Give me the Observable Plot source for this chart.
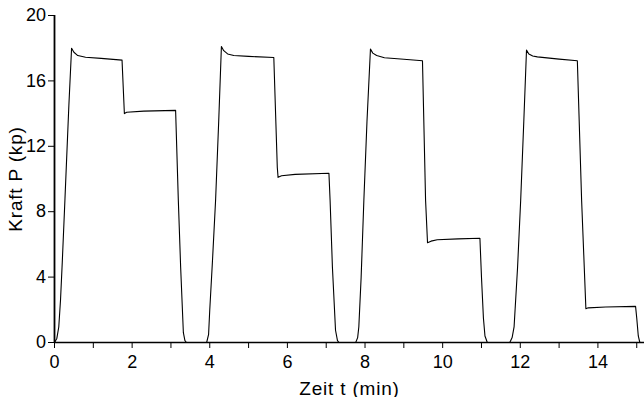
<!DOCTYPE html>
<html>
<head>
<meta charset="utf-8">
<script src="https://cdn.jsdelivr.net/npm/d3@7"></script>
<script src="https://cdn.jsdelivr.net/npm/@observablehq/plot@0.6"></script>
<style>
  html, body { margin: 0; padding: 0; background: #fff; }
  #chart svg { display: block; }
  #chart svg g[aria-label="x-axis label"] text,
  #chart svg g[aria-label="y-axis label"] text { font-size: 19px; letter-spacing: 0.8px; }
</style>
</head>
<body>
<div id="chart"></div>
<script>
// Time (min) and force (kp)
const tValues = [
  0, 0.06, 0.11, 0.155, 0.2, 0.27, 0.37, 0.44, 0.5, 0.6, 0.8, 1.2, 1.74, 1.80, 1.86, 2.3, 3.12, 3.19, 3.25, 3.32, 3.36, 3.40,
  3.92, 3.97, 4.0, 4.07, 4.15, 4.23, 4.30, 4.36, 4.46, 4.62, 5.0, 5.65, 5.74, 5.76, 5.85, 6.2, 7.07, 7.10, 7.16, 7.24, 7.29, 7.33,
  7.76, 7.81, 7.84, 7.90, 7.97, 8.05, 8.14, 8.2, 8.3, 8.5, 9.0, 9.48, 9.56, 9.61, 9.7, 9.86, 10.4, 10.96, 11.0, 11.05, 11.09, 11.15,
  11.73, 11.79, 11.84, 11.93, 12.01, 12.09, 12.16, 12.22, 12.32, 12.44, 13.0, 13.47, 13.58, 13.69, 13.75, 14.2, 14.97, 15.0, 15.04, 15.08
];
const pValues = [
  0, 0.25, 0.95, 2.6, 4.9, 8.8, 14.5, 18.0, 17.75, 17.55, 17.45, 17.38, 17.27, 14.0, 14.08, 14.15, 14.2, 8.7, 4.6, 0.6, 0.12, 0,
  0, 0.5, 2.0, 5.0, 8.7, 13.5, 18.1, 17.85, 17.65, 17.55, 17.5, 17.43, 10.7, 10.1, 10.2, 10.28, 10.35, 8.7, 4.6, 0.75, 0.12, 0,
  0, 0.3, 0.95, 4.0, 8.7, 13.5, 17.95, 17.7, 17.55, 17.42, 17.32, 17.23, 8.7, 6.1, 6.2, 6.28, 6.34, 6.38, 4.0, 1.5, 0.4, 0,
  0, 0.3, 0.95, 4.6, 8.7, 13.5, 17.88, 17.65, 17.52, 17.47, 17.33, 17.23, 8.7, 2.07, 2.12, 2.17, 2.21, 1.5, 0.4, 0
];
const xTickValues = [0, 1, 2, 3, 4, 5, 6, 7, 8, 9, 10, 11, 12, 13, 14, 15];
const xTickLabels = ["0", "", "2", "", "4", "", "6", "", "8", "", "10", "", "12", "", "14", ""];
const yTickValues = [0, 4, 8, 12, 16, 20];

const data = tValues.map((t, i) => ({t, p: pValues[i]}));

const chart = Plot.plot({
  width: 644,
  height: 397,
  marginLeft: 54,
  marginRight: 0,
  marginTop: 15,
  marginBottom: 55,
  style: {fontFamily: "Liberation Sans, Arial, sans-serif", fontSize: "18px", background: "white", color: "black"},
  x: {
    domain: [0, 15.2],
    ticks: xTickValues,
    tickFormat: (d) => xTickLabels[xTickValues.indexOf(d)],
    tickSize: 6,
    tickPadding: 7,
    label: "Zeit t (min)",
    labelAnchor: "center",
    labelArrow: "none",
    labelOffset: 52
  },
  y: {
    domain: [0, 20],
    ticks: yTickValues,
    tickSize: 6,
    tickPadding: 2.5,
    label: "Kraft P (kp)",
    labelAnchor: "center",
    labelArrow: "none",
    labelOffset: 46
  },
  marks: [
    Plot.ruleX([0], {stroke: "black", strokeWidth: 1.8}),
    Plot.ruleY([0], {stroke: "black", strokeWidth: 1.6}),
    Plot.line(data, {x: "t", y: "p", stroke: "black", strokeWidth: 1.1})
  ]
});
document.getElementById("chart").append(chart);
</script>
</body>
</html>
